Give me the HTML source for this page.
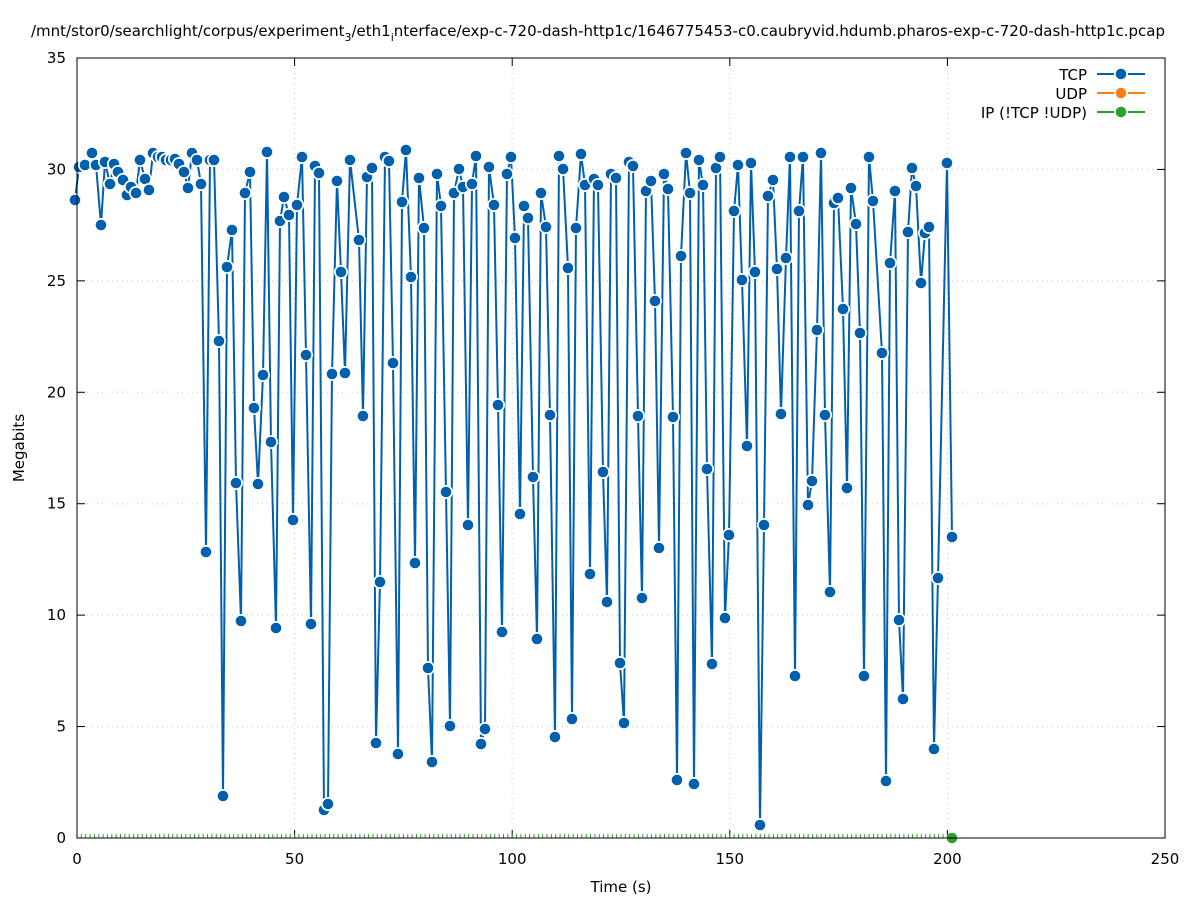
<!DOCTYPE html>
<html><head><meta charset="utf-8"><style>
html,body{margin:0;padding:0;background:#fff;}
svg{display:block;font-family:"DejaVu Sans","Liberation Sans",sans-serif;}
</style></head><body>
<svg id="s" width="1197" height="900" viewBox="0 0 1197 900" xmlns="http://www.w3.org/2000/svg">
<rect width="1197" height="900" fill="#fff"/>
<text x="598" y="36" font-size="15" text-anchor="middle" fill="#000">/mnt/stor0/searchlight/corpus/experiment<tspan font-size="11" dy="5">3</tspan><tspan dy="-5">/eth1</tspan><tspan font-size="11" dy="5">i</tspan><tspan dy="-5">nterface/exp-c-720-dash-http1c/1646775453-c0.caubryvid.hdumb.pharos-exp-c-720-dash-http1c.pcap</tspan></text>
<g id="grid" stroke="#c8c8c8" stroke-width="1" stroke-dasharray="1,4"></g>
<g id="axes"></g>
<g id="data"></g>
<rect x="77" y="58" width="1088" height="780" fill="none" stroke="#000" stroke-width="1"/>
<text x="24" y="448" font-size="15" text-anchor="middle" transform="rotate(-90 24 448)">Megabits</text>
<text x="621" y="892" font-size="15" text-anchor="middle">Time (s)</text>
<g font-size="15" text-anchor="end">
<text x="1087" y="80">TCP</text>
<text x="1087" y="99">UDP</text>
<text x="1087" y="118">IP (!TCP  !UDP)</text>
</g>
<line x1="1097" y1="74" x2="1145" y2="74" stroke="#0060ad" stroke-width="2"/>
<circle cx="1121" cy="74" r="7" fill="#fff"/><circle cx="1121" cy="74" r="5.3" fill="#0060ad"/>
<line x1="1097" y1="93" x2="1145" y2="93" stroke="#ff7f0e" stroke-width="2"/>
<circle cx="1121" cy="93" r="7" fill="#fff"/><circle cx="1121" cy="93" r="5.3" fill="#ff7f0e"/>
<line x1="1097" y1="112" x2="1145" y2="112" stroke="#2ca02c" stroke-width="2"/>
<circle cx="1121" cy="112" r="7" fill="#fff"/><circle cx="1121" cy="112" r="5.3" fill="#2ca02c"/>
</svg>
<script>
var NS="http://www.w3.org/2000/svg";
function el(p,t,a,txt){var e=document.createElementNS(NS,t);for(var k in a)e.setAttribute(k,a[k]);if(txt!==undefined)e.textContent=txt;p.appendChild(e);return e;}
var g=document.getElementById('grid'),ax=document.getElementById('axes'),d=document.getElementById('data');
for(var i=0;i<=5;i++){var x=77+i*217.6;el(g,'line',{x1:x,y1:58,x2:x,y2:838});
el(ax,'line',{x1:x,y1:838,x2:x,y2:830,stroke:'#000'});el(ax,'line',{x1:x,y1:58,x2:x,y2:66,stroke:'#000'});
el(ax,'text',{x:x,y:864,'font-size':15,'text-anchor':'middle'},String(i*50));}
for(var i=0;i<=7;i++){var y=838-i*111.43;el(g,'line',{x1:77,y1:y,x2:1165,y2:y});
el(ax,'line',{x1:77,y1:y,x2:85,y2:y,stroke:'#000'});el(ax,'line',{x1:1165,y1:y,x2:1157,y2:y,stroke:'#000'});
el(ax,'text',{x:66,y:y+5,'font-size':15,'text-anchor':'end'},String(i*5));}
for(var t=0;t<=201;t+=1){var x=77+t*4.352;el(ax,'line',{x1:x,y1:838,x2:x,y2:834,stroke:'#2ca02c','stroke-width':1});}
var P=[[75,200],[79,167],[85,165],[92,153],[96,165],[101,225],[105,162],[110,184],[114,164],[118,172],[123,180],[127,195],[131,187],[136,193],[140,160],[145,179],[149,190],[153,153],[158,157],[162,157],[166,160],[171,160],[175,159],[179,164],[184,172],[188,188],[192,153],[197,160],[201,184],[206,552],[210,160],[214,160],[219,341],[223,796],[227,267],[232,230],[236,483],[241,621],[245,193],[250,172],[254,408],[258,484],[263,375],[267,152],[271,442],[276,628],[280,221],[284,197],[289,215],[293,520],[297,205],[302,157],[306,355],[311,624],[315,166],[319,173],[324,810],[328,804],[332,374],[337,181],[341,272],[345,373],[350,160],[359,240],[363,416],[367,177],[372,168],[376,743],[380,582],[385,157],[389,161],[393,363],[398,754],[402,202],[406,150],[411,277],[415,563],[419,178],[424,228],[428,668],[432,762],[437,174],[441,206],[446,492],[450,726],[454,193],[459,169],[463,187],[468,525],[472,184],[476,156],[481,744],[485,729],[489,167],[494,205],[498,405],[502,632],[507,174],[511,157],[515,238],[520,514],[524,206],[528,218],[533,477],[537,639],[541,193],[546,227],[550,415],[555,737],[559,156],[563,169],[568,268],[572,719],[576,228],[581,154],[585,185],[590,574],[594,179],[598,185],[603,472],[607,602],[611,174],[616,178],[620,663],[624,723],[629,162],[633,166],[638,416],[642,598],[646,191],[651,181],[655,301],[659,548],[664,174],[668,189],[673,417],[677,780],[681,256],[686,153],[690,193],[694,784],[699,160],[703,185],[707,469],[712,664],[716,168],[720,157],[725,618],[729,535],[734,211],[738,165],[742,280],[747,446],[751,163],[755,272],[760,825],[764,525],[768,196],[773,180],[777,269],[781,414],[786,258],[790,157],[795,676],[799,211],[803,157],[808,505],[812,481],[817,330],[821,153],[825,415],[830,592],[834,203],[838,198],[843,309],[847,488],[851,188],[856,224],[860,333],[864,676],[869,157],[873,201],[882,353],[886,781],[890,263],[895,191],[899,620],[903,699],[908,232],[912,168],[916,186],[921,283],[925,233],[929,227],[934,749],[938,578],[947,163],[952,537]];
el(d,'polyline',{points:P.map(function(p){return p.join(',')}).join(' '),fill:'none',stroke:'#0060ad','stroke-width':2,'stroke-linejoin':'miter'});
P.forEach(function(p){el(d,'circle',{cx:p[0],cy:p[1],r:7,fill:'#fff'});el(d,'circle',{cx:p[0],cy:p[1],r:5.3,fill:'#0060ad'});});
el(d,'circle',{cx:952,cy:838,r:5.3,fill:'#2ca02c'});
</script>
</body></html>
